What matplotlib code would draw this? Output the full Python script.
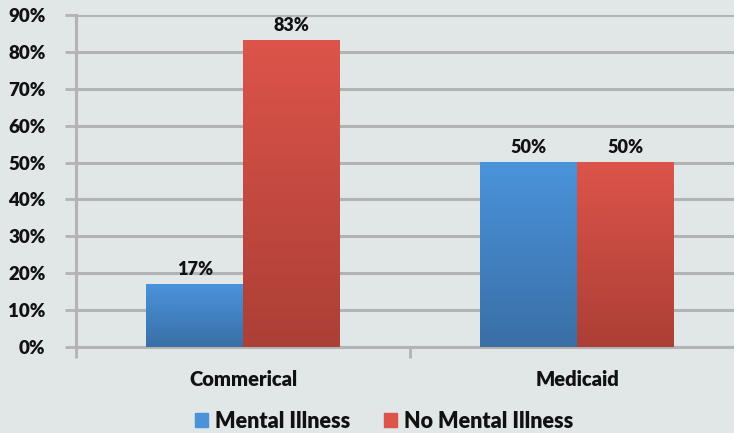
import numpy as np
import matplotlib.pyplot as plt
from matplotlib.colors import LinearSegmentedColormap

# chart values
categories = ['Commerical', 'Medicaid']
series_names = ['Mental Illness', 'No Mental Illness']
mental_illness = [17, 50]
no_mental_illness = [83, 50]
yticks = [0, 10, 20, 30, 40, 50, 60, 70, 80, 90]

bg = '#e1e6e6'
grid_color = '#b3b3b3'
blue_top, blue_bot = '#4a93db', '#3a6fa6'
red_top, red_bot = '#dc544a', '#ac3f36'
txt = '#111111'

plt.rcParams['font.family'] = ['Lato', 'DejaVu Sans']
plt.rcParams['font.weight'] = 'heavy'

fig = plt.figure(figsize=(7.34, 4.33), dpi=100, facecolor=bg)
ax = fig.add_axes([76 / 734, 1 - 347 / 433, 1 - 76 / 734, (347 - 15) / 433])
ax.set_facecolor(bg)

x = np.arange(len(categories))
w = 0.289
bars1 = ax.bar(x - w / 2, mental_illness, w, color=blue_top, label=series_names[0], zorder=3)
bars2 = ax.bar(x + w / 2, no_mental_illness, w, color=red_top, label=series_names[1], zorder=3)

# vertical gradient on each bar
for bars, top, bot in [(bars1, blue_top, blue_bot), (bars2, red_top, red_bot)]:
    cmap = LinearSegmentedColormap.from_list('g', [bot, top])
    for b in bars:
        bx, by = b.get_x(), b.get_y()
        bw, bh = b.get_width(), b.get_height()
        grad = np.linspace(0, 1, 256).reshape(-1, 1)
        ax.imshow(grad, extent=[bx, bx + bw, by, by + bh], origin='lower',
                  cmap=cmap, aspect='auto', zorder=3.5)
        b.set_alpha(0)
        ax.text(bx + bw / 2, by + bh + 1.8, f'{bh:g}%', ha='center', va='bottom',
                fontsize=13, fontweight='heavy', color=txt, zorder=5)

ax.set_xlim(-0.5, 1.47)
ax.set_ylim(0, 90)
ax.set_yticks(yticks)
ax.set_yticklabels([f'{t}%' for t in yticks], fontsize=13.5, fontweight='heavy', color=txt)
ax.yaxis.grid(True, color=grid_color, linewidth=2.2, zorder=0)
ax.tick_params(axis='y', length=8, width=2, color=grid_color, pad=14)

ax.set_xticks([-0.5, 0.5])
ax.set_xticklabels([])
ax.tick_params(axis='x', length=8, width=2, color=grid_color)
for i, c in enumerate(categories):
    ax.text(x[i], -8.8, c, ha='center', va='center', fontsize=14.5, fontweight='heavy',
            color=txt, transform=ax.transData, clip_on=False)

for s in ['top', 'right']:
    ax.spines[s].set_visible(False)
for s in ['left', 'bottom']:
    ax.spines[s].set_color(grid_color)
    ax.spines[s].set_linewidth(2.2)

handles = [plt.Rectangle((0, 0), 1, 1, color=blue_top), plt.Rectangle((0, 0), 1, 1, color=red_top)]
leg = fig.legend(handles, series_names, loc='center', bbox_to_anchor=(384 / 734, 1 - 421 / 433),
                 ncol=2, frameon=False, fontsize=15.5, handlelength=0.6, handleheight=0.6,
                 handletextpad=0.3, columnspacing=1.6, borderaxespad=0, borderpad=0)
for t in leg.get_texts():
    t.set_fontweight('heavy')
    t.set_color(txt)

fig.savefig('out.png', dpi=100, facecolor=bg)
